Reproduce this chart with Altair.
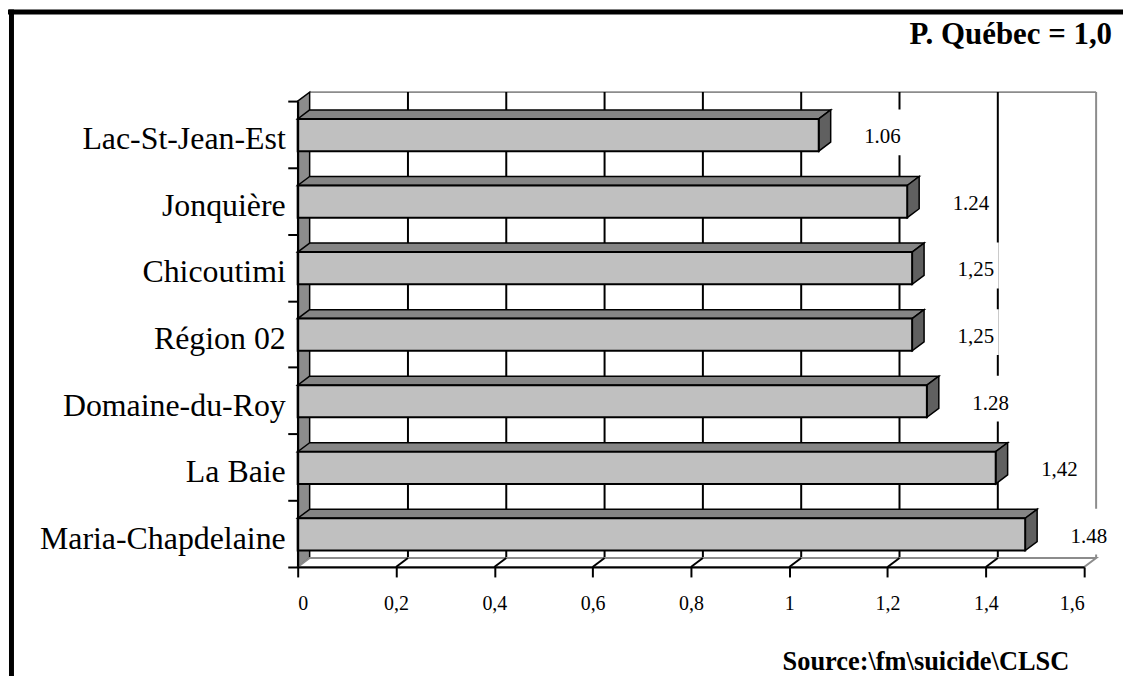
import altair as alt
import pandas as pd

# ---- data ----
regions = ["Lac-St-Jean-Est", "Jonquière", "Chicoutimi", "Région 02",
           "Domaine-du-Roy", "La Baie", "Maria-Chapdelaine"]
values = [1.06, 1.24, 1.25, 1.25, 1.28, 1.42, 1.48]
value_labels = ["1.06", "1.24", "1,25", "1,25", "1.28", "1,42", "1.48"]
x_ticks = [0, 0.2, 0.4, 0.6, 0.8, 1.0, 1.2, 1.4, 1.6]
grid_values = [0.2, 0.4, 0.6, 0.8, 1.0, 1.2, 1.4]
title_text = "P. Québec = 1,0"
source_text = "Source:\\fm\\suicide\\CLSC"

# ---- geometry / style ----
W, H = 790, 468
XMAX = 1.6
NROWS = len(regions)
DX = 12 / (W / XMAX)          # 3-D depth in x units
DY = 9 / (H / NROWS)          # 3-D depth in y units
A, B = 0.268, 0.752           # front face of a bar inside its row
FONT = "Liberation Serif"

xs = alt.Scale(domain=[0, XMAX], nice=False, zero=False)
ys = alt.Scale(domain=[0, NROWS], reverse=True, nice=False, zero=False)

rows = pd.DataFrame({"region": regions, "value": values, "label": value_labels})
rows["i"] = range(NROWS)
rows["ytop"] = rows["i"] + A
rows["ybot"] = rows["i"] + B
rows["mid"] = rows["i"] + 0.5
rows["zero"] = 0.0

top_face = pd.concat([
    pd.DataFrame({"region": rows.region, "y": rows.ytop, "x0": 0.0, "x1": rows.value}),
    pd.DataFrame({"region": rows.region, "y": rows.ytop - DY, "x0": DX, "x1": rows.value + DX}),
])
right_face = pd.concat([
    pd.DataFrame({"region": rows.region, "x": rows.value, "y0": rows.ytop, "y1": rows.ybot}),
    pd.DataFrame({"region": rows.region, "x": rows.value + DX, "y0": rows.ytop - DY, "y1": rows.ybot - DY}),
])
left_wall = pd.DataFrame({"x": [0.0, DX], "y0": [0.0, -DY], "y1": [NROWS, NROWS - DY]})
floor = pd.DataFrame({"y": [NROWS, NROWS - DY], "x0": [0.0, DX], "x1": [XMAX, XMAX + DX]})
grid = pd.DataFrame({"v": grid_values})
grid["xb"] = grid["v"] + DX
grid["ytop"] = -DY
grid["ybot"] = NROWS - DY
grid["yf"] = NROWS
wall_edges = pd.DataFrame({
    "x": [DX, XMAX + DX], "x2": [XMAX + DX, XMAX + DX],
    "y": [-DY, -DY], "y2": [-DY, NROWS - DY]})

xaxis = alt.Axis(values=x_ticks, format=".1~f", labelExpr="replace(datum.label, '.', ',')",
                 tickSize=10, tickWidth=2, tickColor="black", domainWidth=2,
                 domainColor="black", labelFont=FONT, labelFontSize=20,
                 labelColor="black", labelPadding=17, grid=False, title=None, zindex=1)
yaxis = alt.Axis(values=list(range(NROWS + 1)), labels=False, tickSize=10, tickWidth=2,
                 tickColor="black", domainWidth=2, domainColor="black",
                 grid=False, title=None, zindex=1)


def X(field):
    return alt.X(field, scale=xs, axis=xaxis, title=None)


def Y(field):
    return alt.Y(field, scale=ys, axis=yaxis, title=None)


# back wall border
edges = alt.Chart(wall_edges).mark_rule(color="#8c8c8c", strokeWidth=2).encode(
    x=X("x:Q"), x2="x2:Q", y=Y("y:Q"), y2="y2:Q")

# back wall grid lines
back_grid = alt.Chart(grid).mark_rule(color="black", strokeWidth=2).encode(
    x=X("xb:Q"), y=Y("ytop:Q"), y2="ybot:Q")

# white boxes behind value labels
boxes = alt.Chart(rows).mark_square(size=2116, color="white", opacity=1, filled=True,
                                    xOffset=64, yOffset=-2).encode(
    x=X("value:Q"), y=Y("mid:Q"))

# left wall
wall = alt.Chart(left_wall).mark_area(orient="vertical", color="#8c8c8c",
                                      stroke="black", strokeWidth=1.5, opacity=1).encode(
    x=X("x:Q"), y=Y("y0:Q"), y2="y1:Q")

# floor
floor_l = alt.Chart(floor).mark_area(orient="horizontal", color="white",
                                     stroke="#8c8c8c", strokeWidth=2, opacity=1).encode(
    y=Y("y:Q"), x=X("x0:Q"), x2="x1:Q")

floor_grid = alt.Chart(grid).mark_rule(color="black", strokeWidth=2).encode(
    x=X("v:Q"), x2="xb:Q", y=Y("yf:Q"), y2="ybot:Q")

# bars
bar_top = alt.Chart(top_face).mark_area(orient="horizontal", color="#858585",
                                        stroke="black", strokeWidth=1.5, opacity=1).encode(
    y=Y("y:Q"), x=X("x0:Q"), x2="x1:Q", detail="region:N")

bar_right = alt.Chart(right_face).mark_area(orient="vertical", color="#606060",
                                            stroke="black", strokeWidth=1.5, opacity=1).encode(
    x=X("x:Q"), y=Y("y0:Q"), y2="y1:Q", detail="region:N")

bar_front = alt.Chart(rows).mark_rect(color="#c0c0c0", stroke="black", strokeWidth=2).encode(
    x=X("zero:Q"), x2="value:Q", y=Y("ytop:Q"), y2="ybot:Q")

val_text = alt.Chart(rows).mark_text(font=FONT, fontSize=21, align="center",
                                     baseline="middle", dx=64, dy=3, color="black").encode(
    x=X("value:Q"), y=Y("mid:Q"), text="label:N")

cat_text = alt.Chart(rows).mark_text(font=FONT, fontSize=32, align="right",
                                     baseline="middle", dx=-12, dy=5, color="black").encode(
    x=X("zero:Q"), y=Y("mid:Q"), text="region:N")

title_l = alt.Chart(pd.DataFrame({"t": [title_text]})).mark_text(
    font=FONT, fontSize=31, fontWeight="bold", align="right", baseline="alphabetic",
    color="black").encode(x=alt.value(818), y=alt.value(-57), text="t:N")

source_l = alt.Chart(pd.DataFrame({"t": [source_text]})).mark_text(
    font=FONT, fontSize=26.5, fontWeight="bold", align="center", baseline="alphabetic",
    color="black").encode(x=alt.value(631), y=alt.value(571), text="t:N")

frame_top = alt.Chart(pd.DataFrame({"k": [0]})).mark_rule(color="black", strokeWidth=5).encode(
    x=alt.value(-291), x2=alt.value(840), y=alt.value(-89.5))
frame_left = alt.Chart(pd.DataFrame({"k": [0]})).mark_rule(color="black", strokeWidth=5).encode(
    x=alt.value(-287.5), y=alt.value(-92), y2=alt.value(600))

chart = alt.layer(
    edges, back_grid, boxes, wall, floor_l, floor_grid,
    bar_top, bar_right, bar_front, val_text, cat_text,
    title_l, source_l, frame_top, frame_left
).properties(
    width=W, height=H,
    autosize=alt.AutoSizeParams(type="none"),
    padding={"left": 291, "top": 92, "right": 39, "bottom": 108},
    background="white",
).configure_view(stroke=None)

chart.save("out.html", embed_options={"renderer": "svg", "actions": False})
